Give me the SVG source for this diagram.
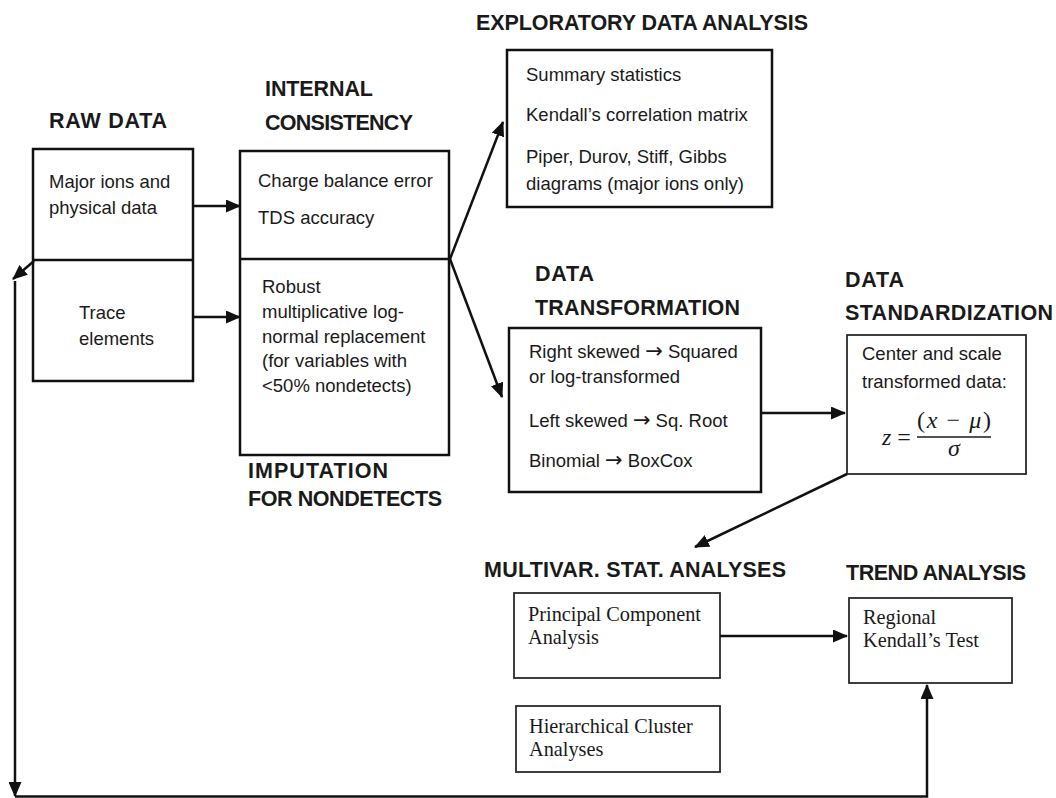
<svg xmlns="http://www.w3.org/2000/svg" width="1056" height="798" viewBox="0 0 1056 798">
  <style>
    .title { font-family: "Liberation Sans", Arial, sans-serif; font-weight: bold; font-size: 21.5px; fill: #1a1a1a; }
    .body { font-family: "Liberation Sans", Arial, sans-serif; font-size: 18.5px; fill: #1a1a1a; }
    .sym { font-family: "DejaVu Sans", sans-serif; font-size: 21px; }
    .serif { font-family: "Liberation Serif", "Times New Roman", serif; font-size: 20.3px; fill: #1a1a1a; }
    .math { font-family: "Liberation Serif", "Times New Roman", serif; font-size: 24px; fill: #1a1a1a; }
    .box { fill: #ffffff; stroke: #111111; stroke-width: 2.5; }
    .box-thin { fill: #ffffff; stroke: #2a2a2a; stroke-width: 1.8; }
    .conn { fill: none; stroke: #111111; stroke-width: 2.5; }
  </style>
  <defs>
    <marker id="arrow" markerUnits="userSpaceOnUse" markerWidth="15" markerHeight="13" refX="14" refY="6.5" orient="auto">
      <path d="M0,0 L15,6.5 L0,13 Z" fill="#111111"/>
    </marker>
  </defs>
  <rect width="1056" height="798" fill="#ffffff"/>

  <!-- Raw data -->
  <g id="raw-data">
    <text class="title" x="49" y="128" textLength="118">RAW DATA</text>
    <rect class="box" x="33" y="149" width="160" height="232"/>
    <line class="conn" x1="33" y1="260" x2="193" y2="260"/>
    <text class="body" x="49" y="188">Major ions and</text>
    <text class="body" x="49" y="214">physical data</text>
    <text class="body" x="79" y="319">Trace</text>
    <text class="body" x="79" y="345">elements</text>
  </g>

  <!-- Internal consistency checks -->
  <g id="internal-consistency">
    <text class="title" x="265" y="96" textLength="108">INTERNAL</text>
    <text class="title" x="265" y="130" textLength="148">CONSISTENCY</text>
    <rect class="box" x="240" y="151" width="209" height="304"/>
    <line class="conn" x1="240" y1="259" x2="449" y2="259"/>
    <text class="body" x="258" y="187">Charge balance error</text>
    <text class="body" x="258" y="224">TDS accuracy</text>
  </g>

  <!-- Imputation for nondetects (lower half of the same box) -->
  <g id="imputation">
    <text class="body" x="262" y="293">Robust</text>
    <text class="body" x="262" y="318">multiplicative log-</text>
    <text class="body" x="262" y="343">normal replacement</text>
    <text class="body" x="262" y="367">(for variables with</text>
    <text class="body" x="262" y="392">&lt;50% nondetects)</text>
    <text class="title" x="248" y="478" textLength="140">IMPUTATION</text>
    <text class="title" x="248" y="506" textLength="194">FOR NONDETECTS</text>
  </g>

  <!-- Exploratory data analysis -->
  <g id="exploratory">
    <text class="title" x="476" y="30" textLength="332">EXPLORATORY DATA ANALYSIS</text>
    <rect class="box" x="507" y="50" width="265" height="157"/>
    <text class="body" x="526" y="81">Summary statistics</text>
    <text class="body" x="526" y="121">Kendall’s correlation matrix</text>
    <text class="body" x="526" y="163">Piper, Durov, Stiff, Gibbs</text>
    <text class="body" x="526" y="190">diagrams (major ions only)</text>
  </g>

  <!-- Data transformation -->
  <g id="transformation">
    <text class="title" x="535" y="281" textLength="59">DATA</text>
    <text class="title" x="535" y="315" textLength="205">TRANSFORMATION</text>
    <rect class="box" x="509" y="328" width="252" height="164"/>
    <text class="body" x="529" y="358">Right skewed <tspan class="sym">→</tspan> Squared</text>
    <text class="body" x="529" y="383">or log-transformed</text>
    <text class="body" x="529" y="427">Left skewed <tspan class="sym">→</tspan> Sq. Root</text>
    <text class="body" x="529" y="467">Binomial <tspan class="sym">→</tspan> BoxCox</text>
  </g>

  <!-- Data standardization -->
  <g id="standardization">
    <text class="title" x="845" y="287" textLength="59">DATA</text>
    <text class="title" x="845" y="320" textLength="208">STANDARDIZATION</text>
    <rect class="box-thin" x="847" y="335" width="179" height="139"/>
    <text class="body" x="862" y="360">Center and scale</text>
    <text class="body" x="862" y="388">transformed data:</text>
    <text class="math" x="882" y="445"><tspan font-style="italic">z</tspan> =</text>
    <line x1="917" y1="437" x2="991" y2="437" stroke="#1a1a1a" stroke-width="1.4"/>
    <text class="math" x="917" y="428" textLength="74">(<tspan font-style="italic">x</tspan> − <tspan font-style="italic">μ</tspan>)</text>
    <text class="math" x="954" y="456" text-anchor="middle" font-style="italic">σ</text>
  </g>

  <!-- Multivariate statistical analyses -->
  <g id="multivariate">
    <text class="title" x="484" y="577" textLength="302">MULTIVAR. STAT. ANALYSES</text>
    <rect class="box-thin" x="514" y="593" width="206" height="85"/>
    <text class="serif" x="528" y="621">Principal Component</text>
    <text class="serif" x="528" y="644">Analysis</text>
    <rect class="box-thin" x="516" y="706" width="204" height="66"/>
    <text class="serif" x="529" y="733">Hierarchical Cluster</text>
    <text class="serif" x="529" y="756">Analyses</text>
  </g>

  <!-- Trend analysis -->
  <g id="trend">
    <text class="title" x="846" y="580" textLength="180">TREND ANALYSIS</text>
    <rect class="box-thin" x="849" y="598" width="163" height="85"/>
    <text class="serif" x="863" y="624">Regional</text>
    <text class="serif" x="863" y="647">Kendall’s Test</text>
  </g>

  <!-- Connectors -->
  <g id="connectors">
    <line class="conn" x1="193" y1="206" x2="240" y2="206" marker-end="url(#arrow)"/>
    <line class="conn" x1="193" y1="317" x2="240" y2="317" marker-end="url(#arrow)"/>
    <line class="conn" x1="450" y1="259" x2="503" y2="122" marker-end="url(#arrow)"/>
    <line class="conn" x1="450" y1="259" x2="502" y2="397" marker-end="url(#arrow)"/>
    <line class="conn" x1="761" y1="413" x2="845" y2="413" marker-end="url(#arrow)"/>
    <line class="conn" x1="847" y1="474" x2="695" y2="547" marker-end="url(#arrow)"/>
    <line class="conn" x1="720" y1="636" x2="847" y2="636" marker-end="url(#arrow)"/>
    <!-- feedback loop from raw data to trend analysis -->
    <line class="conn" x1="34" y1="261" x2="13" y2="279" marker-end="url(#arrow)"/>
    <line class="conn" x1="15" y1="281" x2="15" y2="796" marker-end="url(#arrow)"/>
    <polyline class="conn" points="15,796.5 927,796.5 927,685" marker-end="url(#arrow)"/>
  </g>
</svg>
